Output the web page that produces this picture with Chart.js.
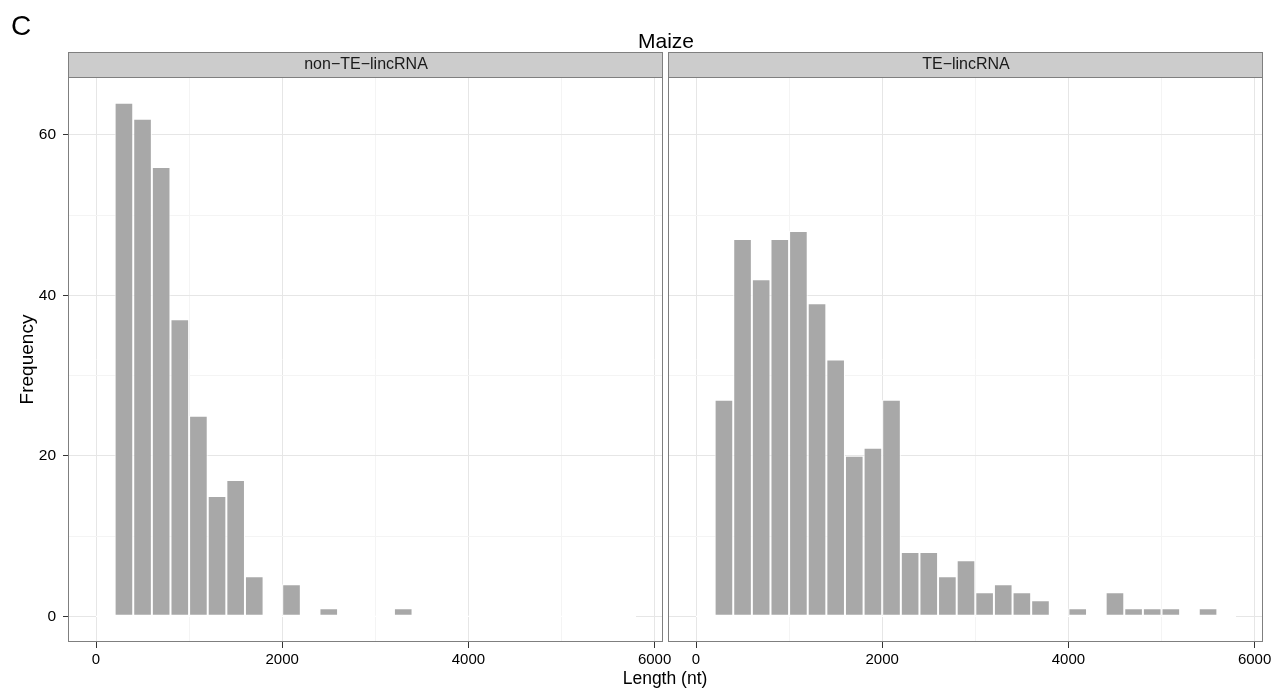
<!DOCTYPE html>
<html><head><meta charset="utf-8">
<script src="https://cdn.jsdelivr.net/npm/chart.js@4.4.1/dist/chart.umd.min.js"></script>
<style>
html,body{margin:0;padding:0;background:#fff;}
#wrap{position:relative;width:1276px;height:692px;overflow:hidden;font-family:"Liberation Sans",Arial,sans-serif;}
canvas{position:absolute;left:0;top:0;}
.t{position:absolute;white-space:nowrap;color:#000;line-height:1;}
</style></head><body>
<div id="wrap">
<canvas id="c1" width="1276" height="692"></canvas>
<canvas id="c2" width="1276" height="692"></canvas>
<div class="t" style="left:11px;top:12px;font-size:28px;">C</div>
<div class="t" style="left:666px;top:40px;transform:translate(-50%,-50%);font-size:21px">Maize</div>
<div class="t" style="left:665px;top:679px;transform:translate(-50%,-50%);font-size:17.5px">Length (nt)</div>
</div>
<script>
// ---- data ----
const binStart = [0,200,400,600,800,1000,1200,1400,1600,1800,2000,2200,2400,2600,2800,3000,3200,3400,3600,3800,4000,4200,4400,4600,4800,5000,5200,5400,5600];
const binWidth = 200;
const nonTE   = [0,64,62,56,37,25,15,17,5,0,4,0,1,0,0,0,1,0,0,0,0,0,0,0,0,0,0,0,0];
const teLinc  = [0,27,47,42,47,48,39,32,20,21,27,8,8,5,7,3,4,3,2,0,1,0,3,1,1,1,0,1,0];
const panelNames = ['non\u2212TE\u2212lincRNA','TE\u2212lincRNA'];
const xTickValues = [0,2000,4000,6000];
const xGridValues = [0,1000,2000,3000,4000,5000,6000];
const yTickValues = [0,20,40,60];
const yGridValues = [0,10,20,30,40,50,60];

const FONT = "'Liberation Sans', Arial, sans-serif";
const MAJ = '#E6E6E6', MIN = '#F4F4F4';
const isMajX = v => xTickValues.includes(v);
const isMajY = v => yTickValues.includes(v);

const facetPlugin = {
  id: 'facet',
  afterDatasetsDraw(chart) {
    const {ctx, scales:{x, y}} = chart;
    const y0 = y.getPixelForValue(0);
    ctx.save();
    ctx.strokeStyle = '#fff'; ctx.lineWidth = 1.2;
    ctx.beginPath();
    ctx.moveTo(x.getPixelForValue(binStart[0]), y0);
    ctx.lineTo(x.getPixelForValue(binStart[binStart.length-1] + binWidth), y0);
    ctx.stroke();
    ctx.restore();
  },
  afterDraw(chart, args, opts) {
    const {ctx, chartArea:a} = chart;
    const L = Math.round(a.left), R = Math.round(a.right), T = Math.round(a.top), B = Math.round(a.bottom);
    ctx.save();
    const sh = 25;
    ctx.fillStyle = '#CCCCCC';
    ctx.fillRect(L, T - sh, R - L, sh);
    ctx.strokeStyle = '#7F7F7F'; ctx.lineWidth = 1;
    ctx.strokeRect(L - 0.5, T - sh + 0.5, R - L, sh);
    ctx.fillStyle = '#1A1A1A';
    ctx.font = '16px ' + FONT;
    ctx.textAlign = 'center'; ctx.textBaseline = 'middle';
    ctx.fillText(opts.label, (L + R) / 2, T - sh / 2 + 0.5);
    ctx.strokeRect(L - 0.5, T + 0.5, R - L, B - T - 1);
    ctx.restore();
  }
};

function makeChart(id, values, label, first) {
  return new Chart(document.getElementById(id), {
    type: 'bar',
    data: {
      datasets: [{
        data: binStart.map((s, i) => ({x: s + binWidth / 2, y: values[i]})),
        backgroundColor: '#A8A8A8',
        borderColor: '#FFFFFF',
        borderWidth: 1,
        borderSkipped: false,
        barPercentage: 1,
        categoryPercentage: 1,
        inflateAmount: 0
      }]
    },
    options: {
      responsive: false,
      animation: false,
      devicePixelRatio: 1,
      layout: {padding: first ? {top: 77, left: 0, right: 613, bottom: 0} : {top: 77, left: 669, right: 13, bottom: 0}},
      plugins: {legend: {display: false}, tooltip: {enabled: false}, facet: {label: label}},
      scales: {
        x: {
          type: 'linear', min: -290, max: 6090, offset: false,
          afterBuildTicks(s) { s.ticks = xGridValues.map(v => ({value: v})); },
          afterFit(s) { s.height = 50; },
          ticks: {autoSkip: false, maxRotation: 0, padding: 3,
                  color: '#000', font: {size: 15, family: FONT},
                  callback: v => isMajX(v) ? String(v) : ''},
          grid: {offset: false, lineWidth: 1, drawTicks: true, tickLength: 6, tickWidth: 1,
                 color: c => (c.tick && isMajX(c.tick.value)) ? MAJ : MIN,
                 tickColor: c => (c.tick && isMajX(c.tick.value)) ? '#333' : 'rgba(0,0,0,0)'},
          border: {display: false}
        },
        y: {
          type: 'linear', min: -3.2, max: 67.2,
          afterBuildTicks(s) { s.ticks = yGridValues.map(v => ({value: v})); },
          afterFit(s) { s.width = first ? 69 : 0; },
          ticks: {display: first, autoSkip: false, padding: 7,
                  color: '#000', font: {size: 15.5, family: FONT},
                  callback: v => isMajY(v) ? String(v) : ''},
          grid: {lineWidth: 1, drawTicks: first, tickLength: 6, tickWidth: 1,
                 color: c => (c.tick && isMajY(c.tick.value)) ? MAJ : MIN,
                 tickColor: c => (c.tick && isMajY(c.tick.value)) ? '#333' : 'rgba(0,0,0,0)'},
          border: {display: false},
          title: {display: first, text: 'Frequency', color: '#000', font: {size: 19, family: FONT}, padding: {top: 16, bottom: 0}}
        }
      }
    },
    plugins: [facetPlugin]
  });
}

makeChart('c1', nonTE, panelNames[0], true);
makeChart('c2', teLinc, panelNames[1], false);
</script>
</body></html>
